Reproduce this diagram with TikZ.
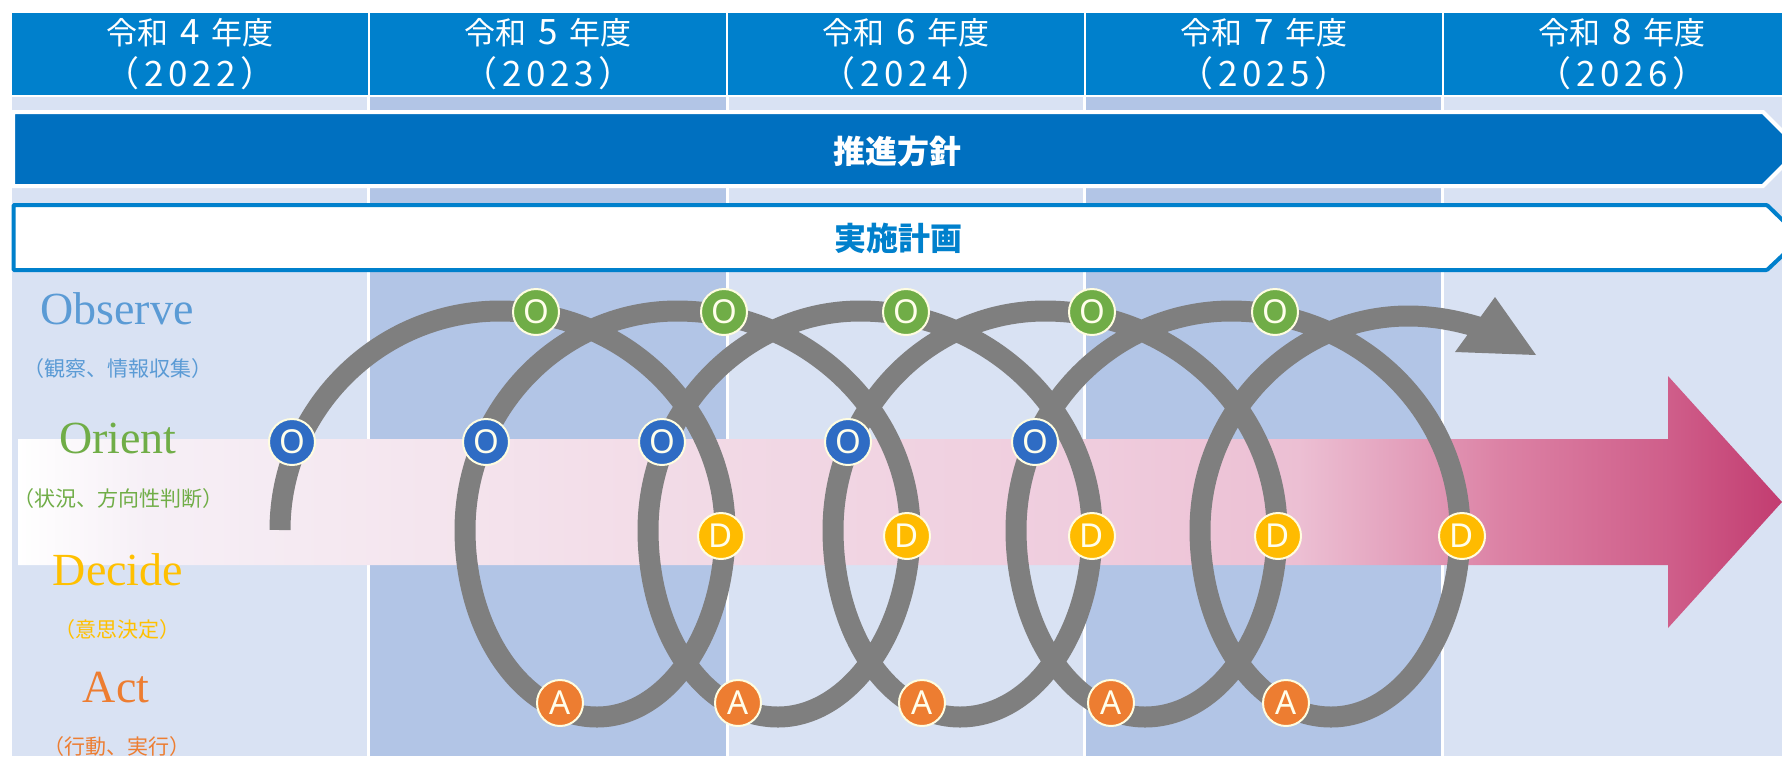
\documentclass[tikz,border=0pt]{standalone}
\usepackage{fontspec}
\setmainfont{Liberation Serif}
\newfontfamily\cjk{Noto Sans CJK JP}
\newfontfamily\cjkwide[LetterSpace=13]{Noto Sans CJK JP}
\newfontfamily\latinsans{Noto Sans}
\definecolor{hdrblue}{HTML}{0080CC}
\definecolor{bannerblue}{HTML}{0070C0}
\definecolor{collight}{HTML}{D9E2F3}
\definecolor{coldark}{HTML}{B2C5E6}
\definecolor{spiralgray}{HTML}{7F7F7F}
\definecolor{obscol}{HTML}{5B9BD5}
\definecolor{oricol}{HTML}{70AD47}
\definecolor{deccol}{HTML}{FFC000}
\definecolor{actcol}{HTML}{ED7D31}
\definecolor{badgeblue}{HTML}{2F6CC4}
\definecolor{badgeyellow}{HTML}{FFBB00}
\definecolor{pa}{HTML}{FFFFFF}
\definecolor{pb}{HTML}{F6EFF6}
\definecolor{pc}{HTML}{F5E9F1}
\definecolor{pd}{HTML}{F2DAE6}
\definecolor{pe}{HTML}{EFCCDD}
\definecolor{pf}{HTML}{ECBFD3}
\definecolor{pg}{HTML}{E4A3BE}
\definecolor{ph}{HTML}{DC82A5}
\definecolor{pi}{HTML}{CF5E8A}
\definecolor{pj}{HTML}{C23C70}
\pgfdeclarehorizontalshading{pinkflow}{100bp}{color(0bp)=(pa); color(25bp)=(pa); color(28.7bp)=(pb); color(33.8bp)=(pc); color(44.3bp)=(pd); color(55.7bp)=(pe); color(61.3bp)=(pf); color(64bp)=(pg); color(67bp)=(ph); color(71.8bp)=(pi); color(75bp)=(pj); color(100bp)=(pj)}
\newcommand{\hdrtext}[2]{\fontsize{31}{41}\selectfont 令和\hspace{12pt}{\fontsize{35}{41}\selectfont #1}\hspace{12pt}年度\\[9pt]\cjkwide\fontsize{35}{41}\selectfont （#2）}
\tikzset{
  x=1pt,y=-1pt,
  hdrlabel/.style={font=\cjk,text=white,align=center,inner sep=0pt},
  mainword/.style={font=\fontsize{46}{46}\selectfont,inner sep=0pt,anchor=base},
  subword/.style={font=\cjk\fontsize{21}{21}\selectfont,inner sep=0pt},
  bannertext/.style={font=\cjk\bfseries\fontsize{32}{32}\selectfont,inner sep=0pt},
  badge/.style={circle,draw=white!88!yellow,line width=2pt,minimum size=46pt,inner sep=0pt,text=white!92!yellow,font=\latinsans\fontsize{33}{33}\selectfont},
}
\begin{document}
\begin{tikzpicture}
\useasboundingbox (0,0) rectangle (1782,756);
\clip (0,0) rectangle (1782,756);
% column backgrounds
\fill[collight] (12,97) rectangle (367,756);
\fill[coldark] (370,97) rectangle (725.5,756);
\fill[collight] (728.5,97) rectangle (1083,756);
\fill[coldark] (1086,97) rectangle (1441,756);
\fill[collight] (1444,97) rectangle (1782,756);
% header cells
\fill[hdrblue] (11.5,13) rectangle (367.5,95);
\fill[hdrblue] (369.5,13) rectangle (726,95);
\fill[hdrblue] (728,13) rectangle (1083.5,95);
\fill[hdrblue] (1085.5,13) rectangle (1441.5,95);
\fill[hdrblue] (1443.5,13) rectangle (1782,95);
\node[hdrlabel] (h1) at (190,54) {\hdrtext{4}{2022}};
\node[hdrlabel] (h2) at (548,54) {\hdrtext{5}{2023}};
\node[hdrlabel] (h3) at (906,54) {\hdrtext{6}{2024}};
\node[hdrlabel] (h4) at (1264,54) {\hdrtext{7}{2025}};
\node[hdrlabel] (h5) at (1622,54) {\hdrtext{8}{2026}};
% banners
\draw[white,line width=4pt,fill=bannerblue,miter limit=2] (13,112) -- (1763,112) -- (1800,149) -- (1763,186) -- (13,186) -- cycle;
\node[bannertext,text=white] (policy) at (897,151) {推進方針};
\draw[hdrblue,line width=4pt,fill=white,rounded corners=1pt] (13.5,205) -- (1767,205) -- (1801,238) -- (1767,270) -- (13.5,270) -- cycle;
\node[bannertext,text=hdrblue] (plan) at (898,238) {実施計画};
% pink flow arrow
\shade[shading=pinkflow] (18,439) -- (1668,439) -- (1668,376) -- (1782,502) -- (1668,628) -- (1668,565) -- (18,565) -- cycle;
% OODA spiral
\draw[spiralgray,line width=21pt,line cap=butt,line join=round]
  (280,530) .. controls (280,409.5) and (379,311) .. (500,311)
  .. controls (624,311) and (725,409.5) .. (725,530)
  .. controls (725,633) and (667,717) .. (597,717)
  .. controls (524,717) and (465,633) .. (465,530)
  .. controls (465,409.5) and (560,311) .. (677,311)
  .. controls (803,311) and (910,409.5) .. (910,530)
  .. controls (910,633) and (848,717) .. (778,717)
  .. controls (704,717) and (648,633) .. (648,530)
  .. controls (648,409.5) and (745,311) .. (860,311)
  .. controls (986,311) and (1092,409.5) .. (1092,530)
  .. controls (1092,633) and (1033,717) .. (960,717)
  .. controls (889,717) and (833,633) .. (833,530)
  .. controls (833,409.5) and (928,311) .. (1045,311)
  .. controls (1173,311) and (1277,409.5) .. (1277,530)
  .. controls (1277,633) and (1218,717) .. (1145,717)
  .. controls (1074,717) and (1016,633) .. (1016,530)
  .. controls (1016,409.5) and (1113,311) .. (1231,311)
  .. controls (1357,311) and (1460,409.5) .. (1460,530)
  .. controls (1460,633) and (1402,717) .. (1331,717)
  .. controls (1258,717) and (1200,633) .. (1200,530)
  .. controls (1200,412) and (1295,316) .. (1408,316)
  .. controls (1432,316) and (1455,320) .. (1478,327);
\fill[spiralgray] (1495,297) -- (1536,355) -- (1455,352) -- cycle;
% badges
\foreach \n/\px in {b1/292,b2/486,b3/662,b4/848,b5/1035}
  \node[badge,fill=badgeblue] (\n) at (\px,442) {O};
\foreach \n/\px in {g1/536,g2/724,g3/906,g4/1092,g5/1275}
  \node[badge,fill=oricol] (\n) at (\px,312) {O};
\foreach \n/\px in {y1/721,y2/907,y3/1092,y4/1278,y5/1462}
  \node[badge,fill=badgeyellow] (\n) at (\px,536) {D};
\foreach \n/\px in {a1/560,a2/738,a3/922,a4/1111,a5/1286}
  \node[badge,fill=actcol] (\n) at (\px,703) {A};
% left labels
\node[mainword,text=obscol] (obs) at (117,324) {Observe};
\node[subword,text=obscol] (obss) at (118,369) {（観察、情報収集）};
\node[mainword,text=oricol] (ori) at (118,453) {Orient};
\node[subword,text=oricol] (oris) at (118,499) {（状況、方向性判断）};
\node[mainword,text=deccol] (dec) at (118,585) {Decide};
\node[subword,text=deccol] (decs) at (117,630) {（意思決定）};
\node[mainword,text=actcol] (act) at (116,702) {Act};
\node[subword,text=actcol] (acts) at (117,747) {（行動、実行）};
\end{tikzpicture}
\end{document}
